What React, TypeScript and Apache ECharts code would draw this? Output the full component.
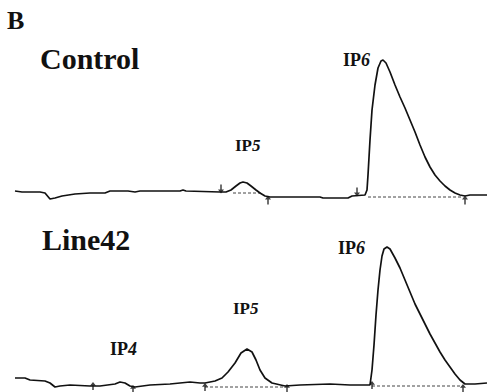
import React, { useEffect, useRef } from "react";
import * as echarts from "echarts";

// Retention time (arbitrary units) and detector signal for the Control trace
const controlTime = [1.5, 2.2, 4.0, 4.5, 5.0, 5.5, 6.2, 7.5, 9.0, 10.5, 11.0, 12.8, 13.5, 14.0, 16.3, 18.0, 18.3, 18.6, 22.0, 22.6, 23.1, 23.6, 24.0, 24.3, 24.7, 25.1, 25.6, 26.0, 26.5, 27.0, 32.0, 32.3, 34.8, 35.2, 36.5, 36.7, 36.8, 37.0, 37.2, 37.5, 37.8, 38.1, 38.3, 38.6, 39.0, 39.5, 40.0, 40.5, 41.0, 41.5, 42.0, 42.5, 43.0, 43.5, 44.0, 44.5, 45.0, 45.5, 46.0, 46.5, 47.0, 48.7];
const controlSignal = [-1, -2, -2, -3, -9, -8, -6, -4, -3, -3, -1, -1, -2, -1, -1, -1, 0, -1, -2, -2, 0, 4, 7, 8, 7, 4, 0, -3, -6, -7, -7, -8, -8, -6, -5, 0, 15, 50, 80, 105, 122, 129, 130, 127, 118, 105, 93, 82, 70, 58, 45, 33, 23, 15, 9, 4, 0, -3, -5, -6, -5, -5];

// Line42 trace
const line42Time = [1.5, 2.5, 3.0, 4.5, 5.0, 5.5, 6.0, 7.0, 9.0, 10.0, 11.5, 12.0, 12.5, 13.0, 13.5, 15.0, 17.0, 19.0, 20.0, 20.5, 21.5, 22.2, 22.8, 23.5, 24.1, 24.7, 25.2, 25.6, 26.0, 26.5, 27.2, 28.5, 30.0, 33.0, 35.0, 37.0, 37.2, 37.4, 37.6, 37.8, 38.0, 38.2, 38.4, 38.7, 39.0, 39.5, 40.0, 40.5, 41.0, 41.5, 42.0, 42.5, 43.0, 43.5, 44.0, 44.5, 45.0, 45.5, 46.0, 46.5, 47.5, 48.7];
const line42Signal = [7, 7, 5, 4, 2, -2, -1, 0, -1, -1, 1, 3, 2, -1, -2, 0, 1, 3, 2, 2, 4, 7, 13, 22, 32, 36, 33, 25, 15, 7, 2, -1, 0, 1, 0, 0, 15, 40, 70, 95, 115, 129, 136, 138, 136, 127, 117, 105, 93, 81, 71, 61, 51, 42, 33, 25, 18, 11, 5, 1, 1, 2];

// Integration baselines (start/end time, level)
const controlBaseIP5 = [[23.3, -3], [26.3, -3]];
const controlBaseIP6 = [[36.8, -7], [46.2, -7]];
const line42BaseIP5 = [[20.5, -2], [28.5, -2]];
const line42BaseIP6 = [[37.2, -1], [46.2, -1]];

// Peak integration markers: [time, signal]
const controlStartMarks = [[22.1, 1], [35.7, -2]];
const controlEndMarks = [[26.8, -10], [46.5, -10]];
const line42Marks = [[9.3, -1], [13.3, -4], [20.5, -2], [28.7, -3], [37.2, 0], [46.3, -3]];

// Labels
const panelLabel = "B";
const sampleNames = ["Control", "Line42"];

const zip = (t: number[], s: number[]) => t.map((v, i) => [v, s[i]]);

const downArrow = "path://M4,0 L6,0 L6,6 L9,6 L5,11 L1,6 L4,6 Z";
const upArrow = "path://M4,11 L6,11 L6,5 L9,5 L5,0 L1,5 L4,5 Z";

const serif = "'Liberation Serif', 'Times New Roman', serif";

function ipLabel(num: string, x: number, y: number, size: number) {
  return {
    type: "text",
    x,
    y,
    style: {
      text: `{a|IP}{b|${num}}`,
      verticalAlign: "middle",
      align: "left",
      fill: "#111",
      rich: {
        a: { fontFamily: serif, fontWeight: "bold", fontSize: size, fill: "#111" },
        b: { fontFamily: serif, fontWeight: "bold", fontStyle: "italic", fontSize: size, fill: "#111" },
      },
    },
  };
}

export default function App() {
  const ref = useRef<HTMLDivElement>(null);
  useEffect(() => {
    if (!ref.current) return;
    const chart = echarts.init(ref.current, null, { renderer: "svg" });
    const xAxisBase = {
      type: "value",
      min: 0,
      max: 48.7,
      show: false,
    };
    const traceStyle = { color: "#111", width: 1.7 };
    const baseStyle = { color: "#444", width: 1, type: [3, 2] };
    chart.setOption({
      animation: false,
      backgroundColor: "#ffffff",
      grid: [
        { left: 0, right: 0, top: 40, bottom: 190 },
        { left: 0, right: 0, top: 235, bottom: 0 },
      ],
      xAxis: [
        { ...xAxisBase, gridIndex: 0 },
        { ...xAxisBase, gridIndex: 1 },
      ],
      yAxis: [
        { type: "value", min: -12, max: 150, show: false, gridIndex: 0 },
        { type: "value", min: -7, max: 150, show: false, gridIndex: 1 },
      ],
      series: [
        {
          type: "line", xAxisIndex: 0, yAxisIndex: 0, data: zip(controlTime, controlSignal),
          showSymbol: false, lineStyle: traceStyle, clip: false, z: 3,
        },
        {
          type: "line", xAxisIndex: 1, yAxisIndex: 1, data: zip(line42Time, line42Signal),
          showSymbol: false, lineStyle: traceStyle, clip: false, z: 3,
        },
        { type: "line", xAxisIndex: 0, yAxisIndex: 0, data: controlBaseIP5, showSymbol: false, lineStyle: baseStyle, z: 2 },
        { type: "line", xAxisIndex: 0, yAxisIndex: 0, data: controlBaseIP6, showSymbol: false, lineStyle: baseStyle, z: 2 },
        { type: "line", xAxisIndex: 1, yAxisIndex: 1, data: line42BaseIP5, showSymbol: false, lineStyle: baseStyle, z: 2 },
        { type: "line", xAxisIndex: 1, yAxisIndex: 1, data: line42BaseIP6, showSymbol: false, lineStyle: baseStyle, z: 2 },
        {
          type: "scatter", xAxisIndex: 0, yAxisIndex: 0, data: controlStartMarks,
          symbol: downArrow, symbolSize: [6, 9], itemStyle: { color: "#111" }, clip: false, z: 4,
        },
        {
          type: "scatter", xAxisIndex: 0, yAxisIndex: 0, data: controlEndMarks,
          symbol: upArrow, symbolSize: [6, 9], itemStyle: { color: "#111" }, clip: false, z: 4,
        },
        {
          type: "scatter", xAxisIndex: 1, yAxisIndex: 1, data: line42Marks,
          symbol: upArrow, symbolSize: [6, 8], itemStyle: { color: "#111" }, clip: false, z: 4,
        },
      ],
      graphic: [
        {
          type: "text", x: 7, y: 20.5,
          style: { text: panelLabel, fontFamily: serif, fontWeight: "bold", fontSize: 26, fill: "#111", verticalAlign: "middle" },
        },
        {
          type: "text", x: 40, y: 58.5,
          style: { text: sampleNames[0], fontFamily: serif, fontWeight: "bold", fontSize: 30, fill: "#111", verticalAlign: "middle" },
        },
        {
          type: "text", x: 42, y: 239.5,
          style: { text: sampleNames[1], fontFamily: serif, fontWeight: "bold", fontSize: 30, fill: "#111", verticalAlign: "middle" },
        },
        ipLabel("6", 343, 59.5, 18),
        ipLabel("5", 235, 145.5, 17),
        ipLabel("6", 338, 247.5, 18),
        ipLabel("5", 233, 308.5, 17),
        ipLabel("4", 110, 348.5, 18),
      ],
    });
    return () => chart.dispose();
  }, []);
  return (
    <div
      ref={ref}
      style={{ position: "fixed", left: 0, top: 0, width: 487, height: 392, background: "#fff" }}
    />
  );
}
